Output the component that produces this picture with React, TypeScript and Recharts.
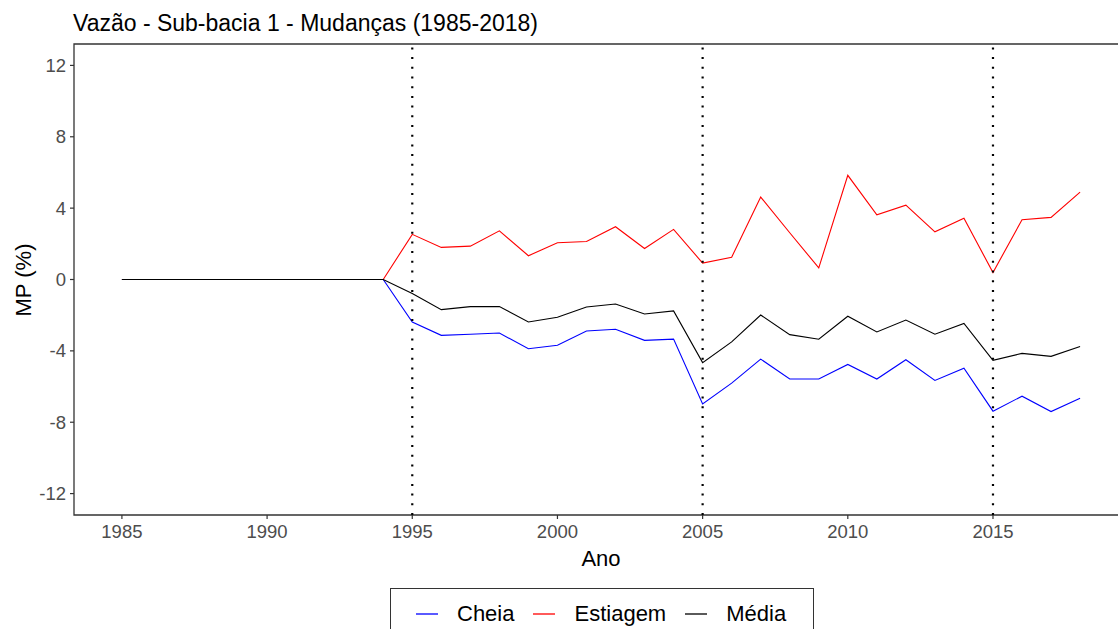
import React from 'react';
import { LineChart, Line, XAxis, YAxis, ReferenceLine, ReferenceArea } from 'recharts';

const years = [1985, 1986, 1987, 1988, 1989, 1990, 1991, 1992, 1993, 1994, 1995, 1996, 1997, 1998, 1999, 2000, 2001, 2002, 2003, 2004, 2005, 2006, 2007, 2008, 2009, 2010, 2011, 2012, 2013, 2014, 2015, 2016, 2017, 2018];
const cheia = [0, 0, 0, 0, 0, 0, 0, 0, 0, 0, -2.38, -3.13, -3.07, -3.0, -3.88, -3.69, -2.89, -2.79, -3.41, -3.34, -6.97, -5.81, -4.46, -5.58, -5.58, -4.76, -5.58, -4.5, -5.66, -4.97, -7.38, -6.54, -7.4, -6.65];
const estiagem = [0, 0, 0, 0, 0, 0, 0, 0, 0, 0, 2.53, 1.8, 1.87, 2.73, 1.33, 2.06, 2.13, 2.96, 1.74, 2.81, 0.92, 1.25, 4.62, 2.62, 0.65, 5.84, 3.63, 4.17, 2.67, 3.43, 0.39, 3.35, 3.48, 4.9];
const media = [0, 0, 0, 0, 0, 0, 0, 0, 0, 0, -0.79, -1.69, -1.52, -1.52, -2.38, -2.12, -1.54, -1.37, -1.93, -1.76, -4.66, -3.5, -1.99, -3.09, -3.35, -2.06, -2.94, -2.27, -3.07, -2.46, -4.53, -4.14, -4.31, -3.76];
const xTicks = [1985, 1990, 1995, 2000, 2005, 2010, 2015];
const yTicks = [-12, -8, -4, 0, 4, 8, 12];
const markYears = [1995, 2005, 2015];
const title = 'Vazão - Sub-bacia 1 - Mudanças (1985-2018)';

const seriesDefs = [
  { key: 'cheia', name: 'Cheia', color: '#0000FF' },
  { key: 'estiagem', name: 'Estiagem', color: '#FF0000' },
  { key: 'media', name: 'Média', color: '#000000' },
];

const data = years.map((ano, i) => ({ ano, cheia: cheia[i], estiagem: estiagem[i], media: media[i] }));

const X_DOMAIN: [number, number] = [1983.35, 2019.65];
const Y_DOMAIN: [number, number] = [-13.2, 13.2];
const FONT = 'Arial, "Liberation Sans", sans-serif';

const LegendBox = () => (
  <div
    style={{
      position: 'absolute',
      left: 390,
      top: 588,
      boxSizing: 'border-box',
      width: 424,
      height: 60,
      border: '1.5px solid #333',
      display: 'flex',
      alignItems: 'flex-start',
      paddingTop: 12,
      paddingLeft: 25,
      fontFamily: FONT,
      fontSize: 22,
      color: '#000',
    }}
  >
    {seriesDefs.map((s) => (
      <div key={s.key} style={{ display: 'flex', alignItems: 'center', marginRight: 19 }}>
        <svg width={22} height={24} style={{ marginRight: 19, display: 'block' }}>
          <line x1={0} y1={12} x2={22} y2={12} stroke={s.color} strokeWidth={1.3} />
        </svg>
        <span style={{ lineHeight: '26px' }}>{s.name}</span>
      </div>
    ))}
  </div>
);

export default function App() {
  return (
    <div style={{ position: 'fixed', left: 0, top: 0, width: 1118, height: 629, overflow: 'hidden', background: '#fff' }}>
      <div
        style={{
          position: 'absolute',
          left: 73,
          top: 10,
          fontFamily: FONT,
          fontSize: 23,
          lineHeight: '27px',
          color: '#000',
          whiteSpace: 'nowrap',
        }}
      >
        {title}
      </div>
      <LineChart
        width={1130}
        height={629}
        data={data}
        margin={{ top: 44, right: 2, left: 0, bottom: 0 }}
        style={{ position: 'absolute', left: 0, top: 0 }}
      >
        <XAxis
          dataKey="ano"
          type="number"
          domain={X_DOMAIN}
          ticks={xTicks}
          allowDataOverflow
          height={114}
          axisLine={false}
          tickSize={4}
          tickMargin={6}
          tickLine={{ stroke: '#333', strokeWidth: 1.2 }}
          tick={{ fill: '#4D4D4D', fontSize: 18.5, fontFamily: FONT }}
          label={{ value: 'Ano', position: 'insideTop', offset: 35, fontSize: 22, fill: '#000', fontFamily: FONT }}
        />
        <YAxis
          type="number"
          domain={Y_DOMAIN}
          ticks={yTicks}
          allowDataOverflow
          width={74}
          axisLine={false}
          tickSize={4}
          tickMargin={4}
          tickLine={{ stroke: '#333', strokeWidth: 1.2 }}
          tick={{ fill: '#4D4D4D', fontSize: 18.5, fontFamily: FONT }}
          label={{
            content: () => (
              <text
                x={23}
                y={280}
                transform="rotate(-90 23 280)"
                textAnchor="middle"
                dominantBaseline="central"
                fontSize={22}
                fontFamily={FONT}
                fill="#000"
              >
                MP (%)
              </text>
            ),
          }}
        />
        <ReferenceArea x1={X_DOMAIN[0]} x2={X_DOMAIN[1]} y1={Y_DOMAIN[0]} y2={Y_DOMAIN[1]} fill="none" stroke="#333" strokeWidth={1.3} />
        {seriesDefs.map((s) => (
          <Line
            key={s.key}
            type="linear"
            dataKey={s.key}
            name={s.name}
            stroke={s.color}
            strokeWidth={1.1}
            dot={false}
            activeDot={false}
            isAnimationActive={false}
          />
        ))}
        {markYears.map((y) => (
          <ReferenceLine key={y} x={y} stroke="#000" strokeWidth={2.2} strokeDasharray="2 7.7" />
        ))}
      </LineChart>
      <LegendBox />
    </div>
  );
}
